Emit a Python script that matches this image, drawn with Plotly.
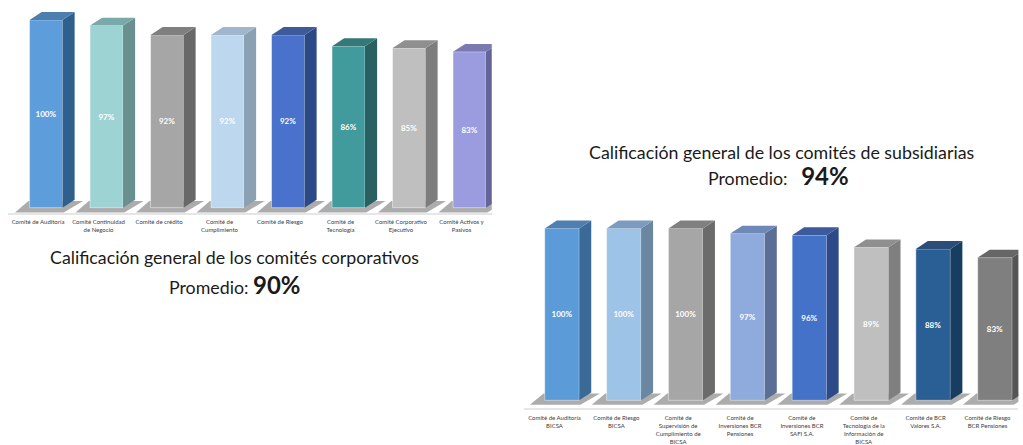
import plotly.graph_objects as go

# ---------------- data ----------------
corp_labels = [
    "Comité de Auditoría",
    "Comité Continuidad<br>de Negocio",
    "Comité de crédito",
    "Comité de<br>Cumplimiento",
    "Comité de Riesgo",
    "Comité de<br>Tecnología",
    "Comité Corporativo<br>Ejecutivo",
    "Comité Activos y<br>Pasivos",
]
corp_values = [100, 97, 92, 92, 92, 86, 85, 83]
corp_average = "90%"

sub_labels = [
    "Comité de Auditoría<br>BICSA",
    "Comité de Riesgo<br>BICSA",
    "Comité de<br>Supervisión de<br>Cumplimiento de<br>BICSA",
    "Comité de<br>Inversiones BCR<br>Pensiones",
    "Comité de<br>Inversiones BCR<br>SAFI S.A.",
    "Comité de<br>Tecnología de la<br>Información de<br>BICSA",
    "Comité de BCR<br>Valores S.A.",
    "Comité de Riesgo<br>BCR Pensiones",
]
sub_values = [100, 100, 100, 97, 96, 89, 88, 83]
sub_average = "94%"

# ---------------- styles ----------------
corp_front = ["#5d9ddb", "#9dd3d3", "#a6a6a6", "#bdd7ee", "#4a72cc", "#419a9c", "#bfbfbf", "#9b9be0"]
corp_side = ["#2f5f8c", "#698f8f", "#686868", "#8ba0b3", "#2b4987", "#2a6062", "#7d7d7d", "#646497"]
corp_top = ["#4d7fae", "#7aa9a9", "#7f7f7f", "#9fb6cc", "#3d5b98", "#357878", "#8f8f8f", "#7a7ab1"]

sub_front = ["#5b9bd8", "#9dc3e6", "#a6a6a6", "#8faadc", "#4472c8", "#bfbfbf", "#2a5f95", "#7f7f7f"]
sub_side = ["#3c6a96", "#6a86a0", "#6b6b6b", "#5a6e96", "#2d4a88", "#7f7f7f", "#173d60", "#555555"]
sub_top = ["#4f7fb0", "#7c9cbf", "#808080", "#6e88b8", "#3b5b9c", "#8f8f8f", "#2a4e78", "#666666"]

FONT = "Lato"
fig = go.Figure()
shapes = []


def add_chart(values, front, side, top, xa, ya, width, offset, dx, dy):
    xs = list(range(len(values)))
    # shadows on the floor (below everything)
    for i, v in enumerate(values):
        xl = i + offset
        xr = xl + width
        path = (f"M {xl - 0.24},{-2.6} L {xr + 0.02},{-2.6} "
                f"L {xr + dx + 0.14},{dy * 0.85} L {xl - 0.02},{dy * 0.85} Z")
        shapes.append(dict(type="path", path=path, xref=xa, yref=ya, layer="below",
                           fillcolor="rgba(70,70,70,0.45)", line=dict(width=0)))
    # front faces
    fig.add_trace(go.Bar(
        x=xs, y=values, width=width, offset=offset,
        marker=dict(color=front, line=dict(color="rgba(255,255,255,0.55)", width=0.8)),
        text=[f"<b>{v}%</b>" for v in values], textposition="inside",
        insidetextanchor="middle", textangle=0,
        textfont=dict(family=FONT, size=8, color="white"),
        xaxis=xa, yaxis=ya, showlegend=False, hoverinfo="skip",
    ))
    # side and top faces
    for i, v in enumerate(values):
        xl = i + offset
        xr = xl + width
        fig.add_trace(go.Scatter(
            x=[xr, xr + dx, xr + dx, xr, xr], y=[0, dy, v + dy, v, 0],
            fill="toself", fillcolor=side[i], mode="lines", line=dict(width=0),
            xaxis=xa, yaxis=ya, showlegend=False, hoverinfo="skip"))
        fig.add_trace(go.Scatter(
            x=[xl, xl + dx, xr + dx, xr, xl], y=[v, v + dy, v + dy, v, v],
            fill="toself", fillcolor=top[i], mode="lines", line=dict(width=0),
            xaxis=xa, yaxis=ya, showlegend=False, hoverinfo="skip"))


add_chart(corp_values, corp_front, corp_side, corp_top,
          "x", "y", width=0.545, offset=-0.14, dx=0.2, dy=4.2)
add_chart(sub_values, sub_front, sub_side, sub_top,
          "x2", "y2", width=0.558, offset=-0.158, dx=0.194, dy=4.6)

xcommon = dict(range=[-0.5, 7.5], tickmode="array", tickvals=list(range(8)),
               showgrid=False, zeroline=False, showline=True, linecolor="#e6e6e6",
               linewidth=2, ticks="", tickangle=0, fixedrange=True,
               tickfont=dict(family=FONT, size=6, color="#404040"))

fig.update_layout(
    width=1023, height=445,
    margin=dict(l=0, r=0, t=0, b=0),
    paper_bgcolor="white", plot_bgcolor="rgba(0,0,0,0)",
    xaxis=dict(domain=[0.0076, 0.4807], ticktext=corp_labels, anchor="y",
               ticklabelstandoff=2, **xcommon),
    yaxis=dict(domain=[0.5175, 1.0], range=[-3, 110.6], visible=False, fixedrange=True),
    xaxis2=dict(domain=[0.5118, 0.9955], ticktext=sub_labels, anchor="y2",
                ticklabelstandoff=3, **xcommon),
    yaxis2=dict(domain=[0.0764, 0.5416], range=[-4.6, 115], visible=False, fixedrange=True),
    shapes=shapes,
    font=dict(family=FONT),
)


def py(pix):
    return 1 - pix / 445


def px(pix):
    return pix / 1023


annots = [
    dict(text="Calificación general de los comités corporativos", x=px(234), y=py(259),
         font=dict(size=17.8, color="#1a1a1a")),
    dict(text=f"Promedio: <span style='font-size:24px'><b>{corp_average}</b></span>",
         x=px(235), y=py(286), font=dict(size=17.8, color="#1a1a1a")),
    dict(text="Calificación general de los comités de subsidiarias", x=px(781), y=py(153),
         font=dict(size=17.8, color="#1a1a1a")),
    dict(text=f"Promedio:   <span style='font-size:24px'><b>{sub_average}</b></span>",
         x=px(778), y=py(177), font=dict(size=17.8, color="#1a1a1a")),
]
for a in annots:
    a.update(xref="paper", yref="paper", xanchor="center", yanchor="middle", showarrow=False)
fig.update_layout(annotations=annots)

fig.write_html("out.html")
